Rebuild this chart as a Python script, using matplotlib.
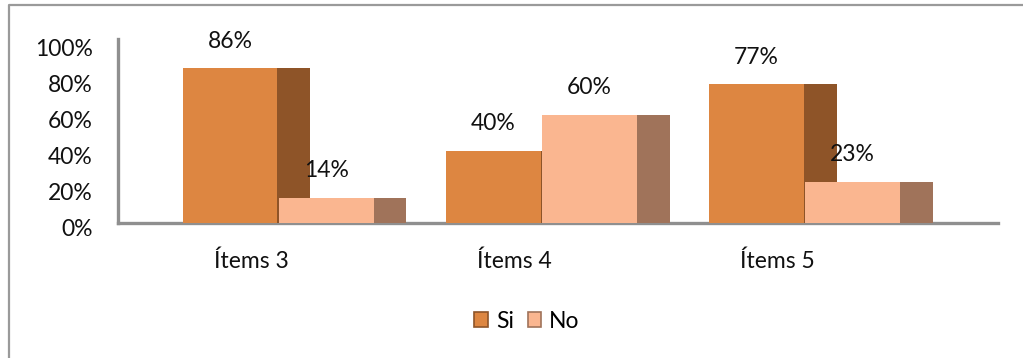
import matplotlib.pyplot as plt
import matplotlib.transforms as mtransforms
from matplotlib.lines import Line2D
from matplotlib.patches import Patch
import numpy as np

# datos del gráfico
categorias = ["Ítems 3", "Ítems 4", "Ítems 5"]
si = [0.86, 0.40, 0.77]
no = [0.14, 0.60, 0.23]
yticks = [0, 0.2, 0.4, 0.6, 0.8, 1.0]
yticklabels = ["0%", "20%", "40%", "60%", "80%", "100%"]

# colores (cara frontal / cara lateral)
SI_FRENTE, SI_LADO = "#DD8641", "#8E5428"
NO_FRENTE, NO_LADO = "#FAB690", "#A0735A"

plt.rcParams["font.family"] = ["Lato", "DejaVu Sans"]

fig = plt.figure(figsize=(10.23, 3.58), dpi=100)
ax = fig.add_axes([0.1153, 0.3771, 0.9756 - 0.1153, 0.890 - 0.3771])

x = np.arange(len(categorias))
ancho = 0.36
fondo = 0.125
izq_si = -0.26
izq_no = izq_si + ancho + 0.005

# efecto 3D sencillo: cara lateral oscura detrás de la frontal
ax.bar(x + izq_si + ancho, si, width=fondo, align="edge", color=SI_LADO, zorder=2)
ax.bar(x + izq_si, si, width=ancho, align="edge", color=SI_FRENTE, zorder=3)
ax.bar(x + izq_no + ancho, no, width=fondo, align="edge", color=NO_LADO, zorder=4)
ax.bar(x + izq_no, no, width=ancho, align="edge", color=NO_FRENTE, zorder=5)

# etiquetas de valor
for i in range(len(categorias)):
    ax.annotate(f"{si[i]:.0%}", (x[i] + izq_si + ancho / 2, si[i]),
                xytext=(0, 19.5), textcoords="offset points",
                ha="center", va="center", fontsize=16.5, color="#111111")
    ax.annotate(f"{no[i]:.0%}", (x[i] + izq_no + ancho / 2, no[i]),
                xytext=(0, 19.5), textcoords="offset points",
                ha="center", va="center", fontsize=16.5, color="#111111")

ax.set_xlim(-0.506, 2.837)
ax.set_ylim(0, 1.02)
ax.set_xticks(x)
ax.set_xticklabels(categorias, fontsize=16.5, color="#111111")
ax.set_yticks(yticks)
ax.set_yticklabels(yticklabels, fontsize=16.5, color="#111111")
ax.tick_params(axis="y", length=0, pad=18)
ax.tick_params(axis="x", length=0, pad=20)

# las etiquetas del eje y quedan un poco más abajo (perspectiva)
desplaza = mtransforms.ScaledTranslation(0, -3 / 72, fig.dpi_scale_trans)
for etiqueta in ax.get_yticklabels():
    etiqueta.set_transform(etiqueta.get_transform() + desplaza)

for lado in ["top", "right"]:
    ax.spines[lado].set_visible(False)
for lado in ["left", "bottom"]:
    ax.spines[lado].set_color("#8f8f8f")
    ax.spines[lado].set_linewidth(2.4)
    ax.spines[lado].set_zorder(1)

# leyenda
handles = [Patch(facecolor=SI_FRENTE, edgecolor=SI_LADO, linewidth=1.2),
           Patch(facecolor=NO_FRENTE, edgecolor=NO_LADO, linewidth=1.2)]
fig.legend(handles, ["Si", "No"], loc="center", ncol=2,
           bbox_to_anchor=(527 / 1023, 1 - 321 / 358), frameon=False,
           fontsize=16.5, handlelength=0.6, handleheight=0.6,
           handletextpad=0.35, columnspacing=0.6, borderpad=0)

# marco del área del gráfico
fig.add_artist(Line2D([9 / 1023, 9 / 1023, 1.0], [0.0, 1 - 5 / 358, 1 - 5 / 358],
                      transform=fig.transFigure, color="#9a9a9a", linewidth=1.6))

fig.savefig("out.png", dpi=100)
